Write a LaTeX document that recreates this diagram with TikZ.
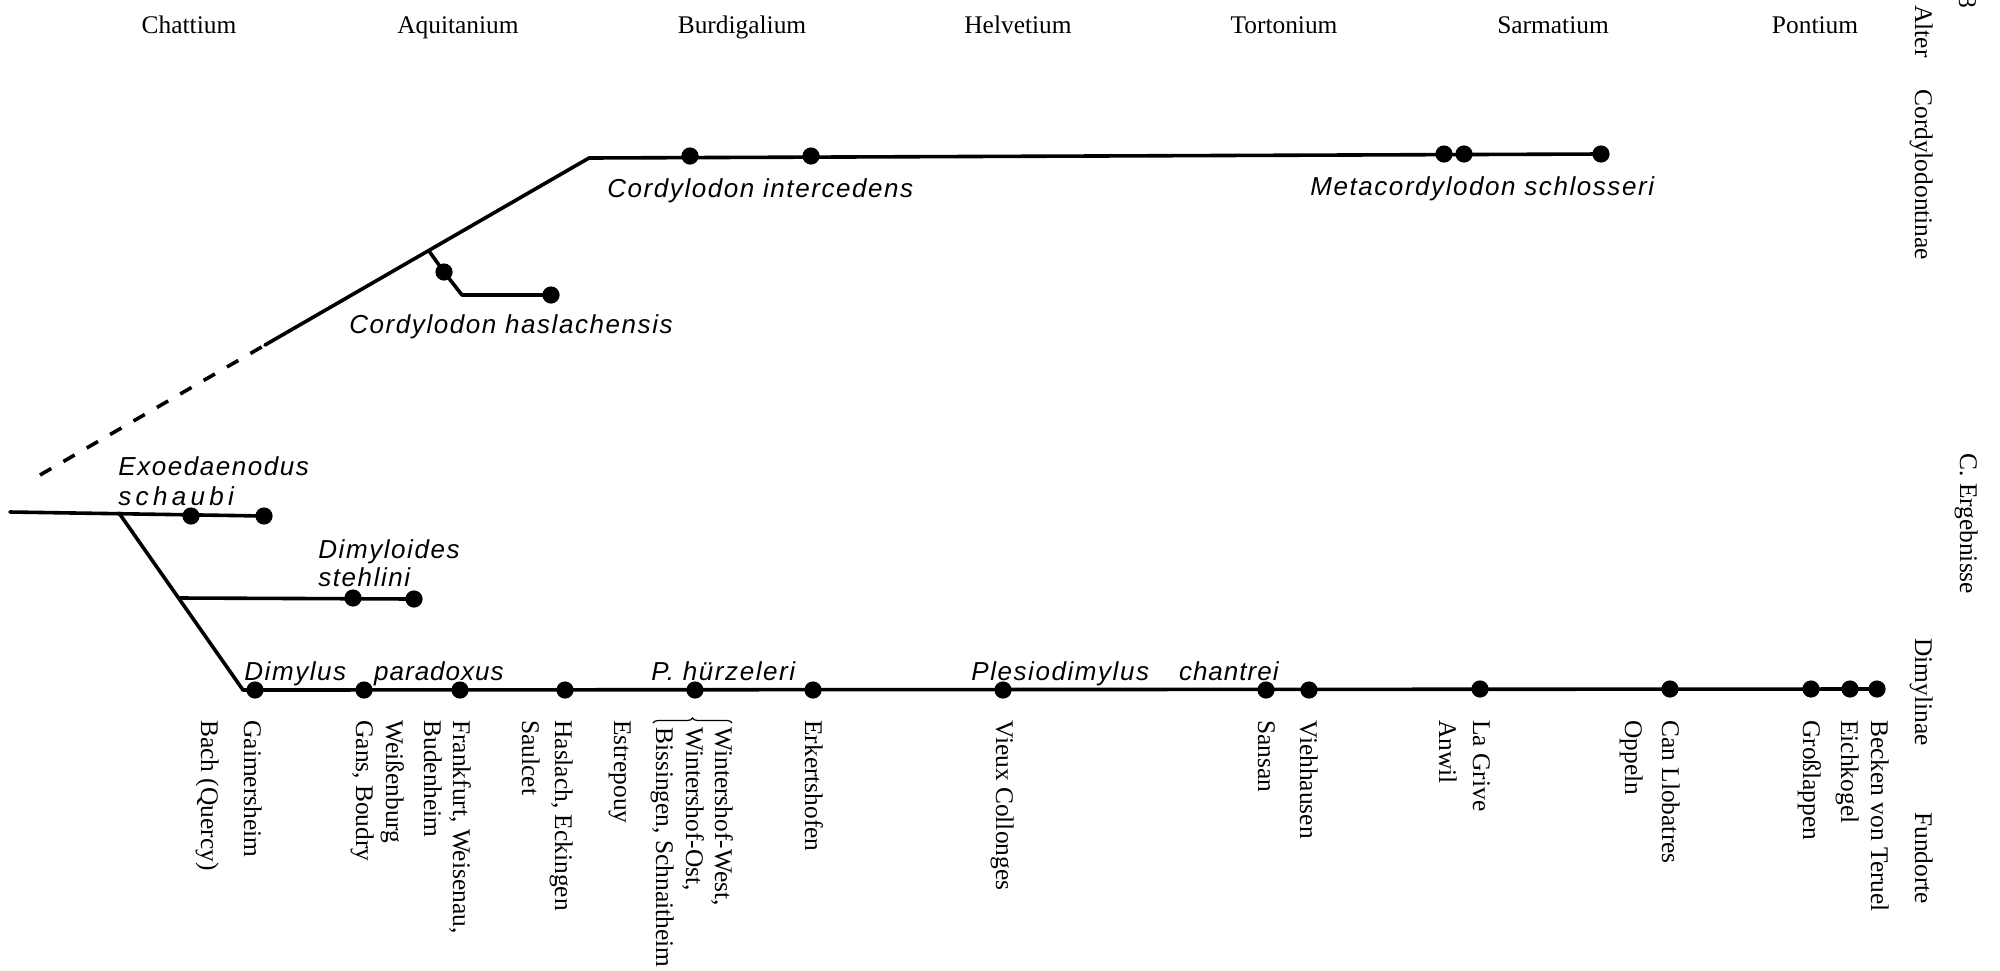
\documentclass[tikz,border=0pt]{standalone}
\usepackage{fontspec}
\setmainfont{Liberation Serif}
\newfontfamily\labfont[LetterSpace=6]{Liberation Sans}
\usetikzlibrary{decorations.pathreplacing}
\begin{document}
\begin{tikzpicture}[x=0.5pt,y=-0.5pt,
  branch/.style={line width=1.8pt, line cap=round, line join=round},
  dashbranch/.style={line width=1.8pt, dash pattern=on 6.5pt off 7pt},
  dot/.style={circle, fill=black, inner sep=0pt, minimum size=8.6pt},
  age/.style={font=\fontsize{12.7}{15}\selectfont, anchor=base, inner sep=0pt},
  site/.style={font=\fontsize{12.7}{15}\selectfont, rotate=-90, anchor=base west, inner sep=0pt},
  taxon/.style={font=\labfont\itshape\fontsize{13}{15}\selectfont, anchor=base west, inner sep=0pt},
  tbrace/.style={decorate, decoration={brace, amplitude=2.5pt}, line width=0.6pt}]
\useasboundingbox (0,0) rectangle (2000,970);

% ---- age header ----
\node[age] (chatt) at (189,33) {Chattium};
\node[age] (aquit) at (458,33) {Aquitanium};
\node[age] (burdi) at (742,33) {Burdigalium};
\node[age] (helve) at (1018,33) {Helvetium};
\node[age] (torto) at (1284,33) {Tortonium};
\node[age] (sarma) at (1553,33) {Sarmatium};
\node[age] (ponti) at (1815,33) {Pontium};

% ---- right margin ----
\node[site] (alter) at (1915,5) {Alter};
\node[site] (cordy) at (1915,89) {Cordylodontinae};
\node[site] (ergeb) at (1960,453) {C. Ergebnisse};
\node[site] (dimyl) at (1915,638) {Dimylinae};
\node[site] (fundo) at (1915,812) {Fundorte};
\node[site, anchor=base east] (page) at (1959,9) {8};

% ---- coordinates of the tree ----
\coordinate (root) at (10,512);
\coordinate (jA) at (119,513);
\coordinate (jB) at (180,598);
\coordinate (corner) at (243,690);
\coordinate (dashA) at (40,475);
\coordinate (dashB) at (265,345);
\coordinate (bend) at (589,158);
\coordinate (hb) at (429,251);
\coordinate (hc) at (462,295);

% dots
\node[dot] (e1) at (191,516) {};
\node[dot] (e2) at (264,516) {};
\node[dot] (s1) at (353,598) {};
\node[dot] (s2) at (414,599) {};
\node[dot] (h1) at (444,272) {};
\node[dot] (h2) at (551,295) {};
\node[dot] (u1) at (690,156) {};
\node[dot] (u2) at (811,156) {};
\node[dot] (u3) at (1444,154) {};
\node[dot] (u4) at (1464,154) {};
\node[dot] (u5) at (1601,154) {};
\node[dot] (d1) at (255,690) {};
\node[dot] (d2) at (364,690) {};
\node[dot] (d3) at (460,690) {};
\node[dot] (d4) at (565,690) {};
\node[dot] (d5) at (695,690) {};
\node[dot] (d6) at (813,690) {};
\node[dot] (d7) at (1003,690) {};
\node[dot] (d8) at (1266,690) {};
\node[dot] (d9) at (1309,690) {};
\node[dot] (d10) at (1480,689) {};
\node[dot] (d11) at (1670,689) {};
\node[dot] (d12) at (1811,689) {};
\node[dot] (d13) at (1850,689) {};
\node[dot] (d14) at (1877,689) {};

% branches
\draw[branch] (root) -- (e2.center);
\draw[branch] (jA) -- (corner) -- (d14.center);
\draw[branch] (jB) -- (s2.center);
\draw[dashbranch] (dashA) -- (dashB);
\draw[branch] (dashB) -- (bend) -- (u5.center);
\draw[branch] (hb) -- (h1.center) -- (hc) -- (h2.center);

% ---- taxon names ----
\node[taxon] (tint) at (607,197) {Cordylodon intercedens};
\node[taxon] (tmeta) at (1310,195) {Metacordylodon schlosseri};
\node[taxon] (thas) at (349,333) {Cordylodon haslachensis};
\node[taxon] (texo) at (118,475) {Exoedaenodus};
\node[taxon] (tsch) at (118,505) {s\,c\,h\,a\,u\,b\,i};
\node[taxon] (tdim) at (318,558) {Dimyloides};
\node[taxon] (tste) at (318,586) {stehlini};
\node[taxon] (tpar) at (244,680) {Dimylus\hspace{14pt}p\kern0.5pt a\kern0.5pt r\kern0.5pt a\kern0.5pt d\kern0.5pt o\kern0.5pt x\kern0.5pt u\kern0.5pt s};
\node[taxon] (thur) at (651,680) {P. hürzeleri};
\node[taxon] (tple) at (971,680) {Plesiodimylus\hspace{15pt}c\kern0.5pt h\kern0.5pt a\kern0.5pt n\kern0.5pt t\kern0.5pt r\kern0.5pt e\kern0.5pt i};

% ---- localities ----
\node[site] (l1) at (201,720) {Bach (Quercy)};
\node[site] (l2) at (244,720) {Gaimersheim};
\node[site] (l3) at (356,720) {Gans, Boudry};
\node[site] (l4) at (386,720) {Weißenburg};
\node[site] (l5) at (424,720) {Budenheim};
\node[site] (l6) at (453,720) {Frankfurt, Weisenau,};
\node[site] (l7) at (522,720) {Saulcet};
\node[site] (l8) at (555,720) {Haslach, Eckingen};
\node[site] (l9) at (614,720) {Estrepouy};
\node[site] (l10) at (656,727) {Bissingen, Schnaitheim};
\node[site] (l11) at (686,727) {Wintershof-Ost,};
\node[site] (l12) at (715,727) {Wintershof-West,};
\draw[tbrace] (653,723) -- (732,723);
\node[site] (l13) at (805,720) {Erkertshofen};
\node[site] (l14) at (996,720) {Vieux Collonges};
\node[site] (l15) at (1258,720) {Sansan};
\node[site] (l16) at (1300,720) {Viehhausen};
\node[site] (l17) at (1439,720) {Anwil};
\node[site] (l18) at (1473,720) {La Grive};
\node[site] (l19) at (1625,720) {Oppeln};
\node[site] (l20) at (1662,720) {Can Llobatres};
\node[site] (l21) at (1803,720) {Großlappen};
\node[site] (l22) at (1841,720) {Eichkogel};
\node[site] (l23) at (1871,720) {Becken von Teruel};
\end{tikzpicture}
\end{document}
